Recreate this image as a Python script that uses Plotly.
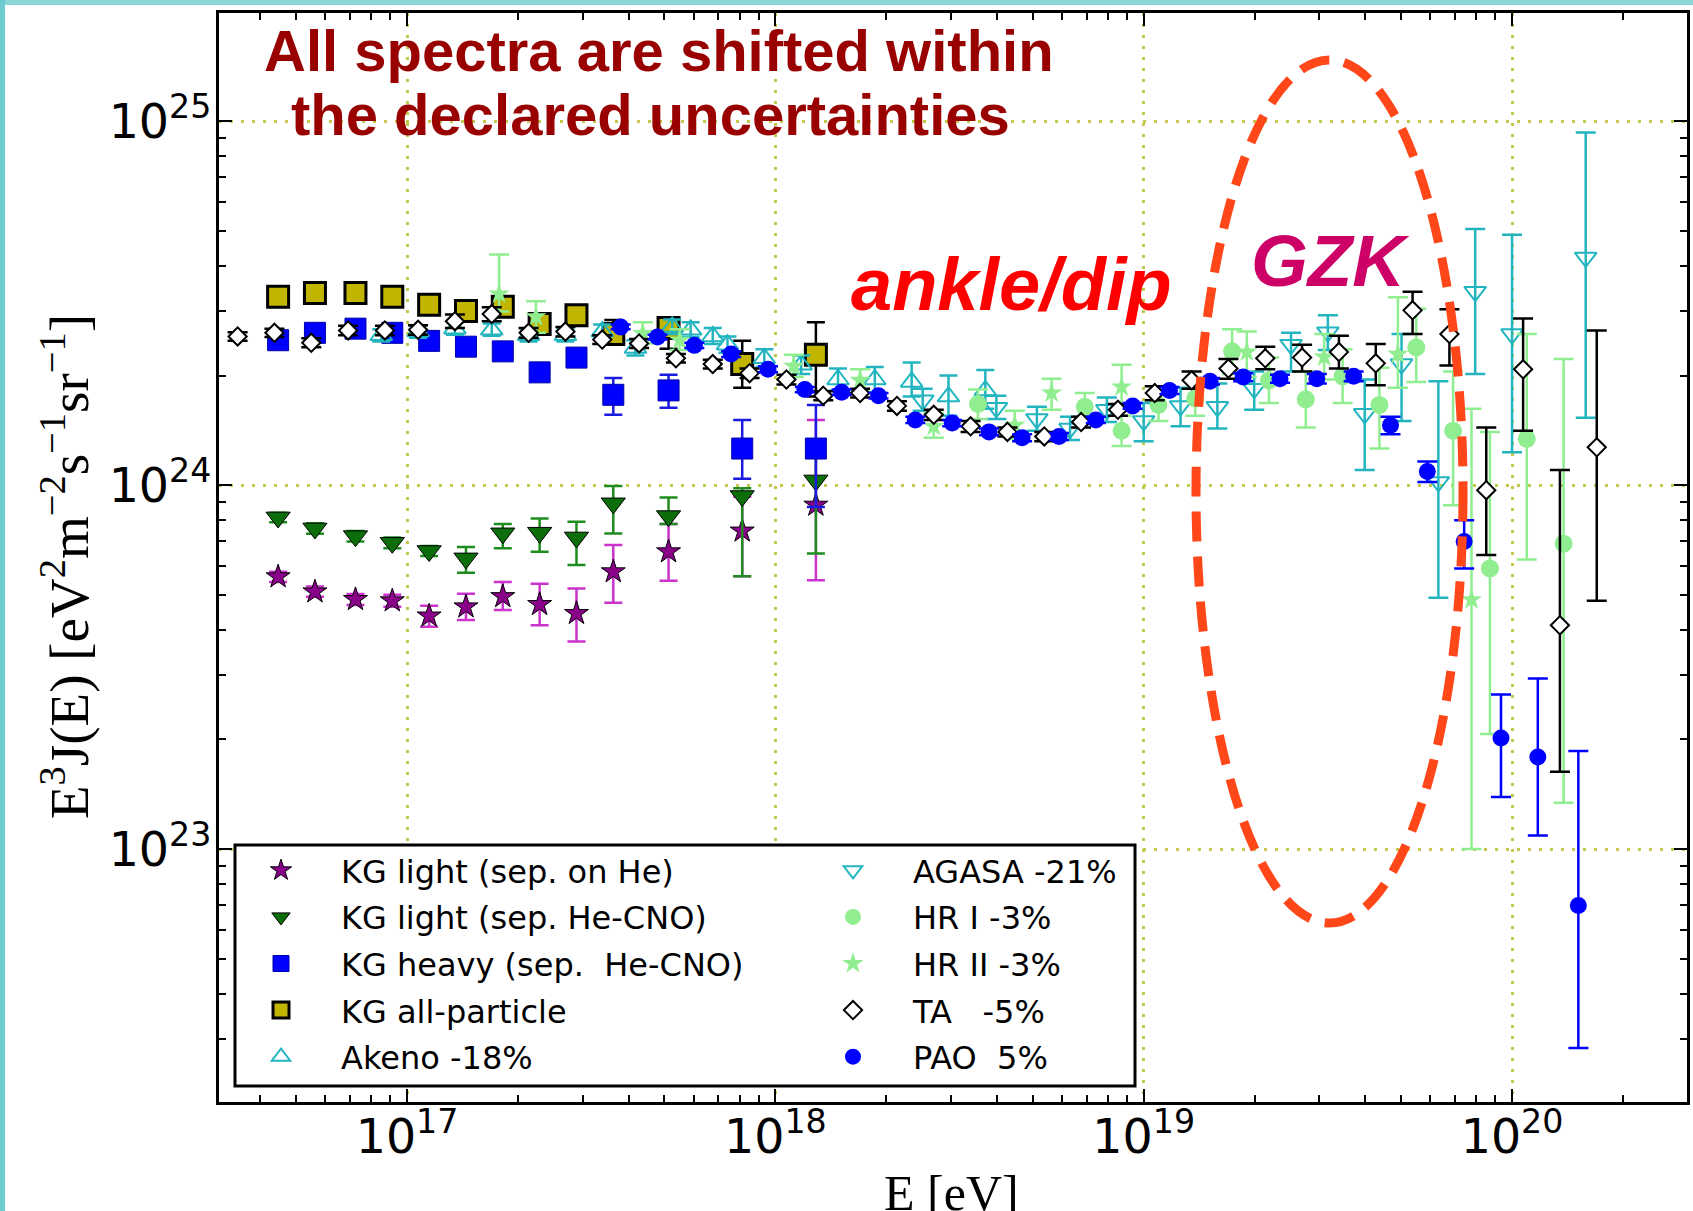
import plotly.graph_objects as go

# ---------------------------------------------------------------------------
# Cosmic-ray all-particle spectrum, E^3 J(E), several experiments
# energies stored as log10(E / eV), fluxes in eV^2 m^-2 s^-1 sr^-1
# ---------------------------------------------------------------------------

kg_lgE = [16.65, 16.75, 16.86, 16.96, 17.06, 17.16, 17.26, 17.36, 17.46, 17.56, 17.71, 17.91, 18.11]

kg_light_he = [5.60e23, 5.09e23, 4.85e23, 4.81e23, 4.37e23, 4.63e23, 4.94e23, 4.70e23, 4.44e23, 5.78e23, 6.56e23, 7.48e23, 8.81e23]
kg_light_he_lo = [5.42e23, 4.93e23, 4.68e23, 4.63e23, 4.08e23, 4.26e23, 4.54e23, 4.12e23, 3.72e23, 4.75e23, 5.46e23, 5.62e23, 5.48e23]
kg_light_he_hi = [5.78e23, 5.26e23, 5.02e23, 5.00e23, 4.66e23, 5.03e23, 5.42e23, 5.36e23, 5.20e23, 6.84e23, 7.82e23, 9.29e23, 1.51e24]

kg_light_cno = [8.15e23, 7.60e23, 7.24e23, 6.94e23, 6.59e23, 6.29e23, 7.37e23, 7.40e23, 7.18e23, 8.91e23, 8.22e23, 9.33e23, 1.03e24]
kg_light_cno_lo = [7.90e23, 7.35e23, 7.00e23, 6.70e23, 6.38e23, 5.74e23, 6.70e23, 6.56e23, 6.03e23, 7.36e23, 7.82e23, 5.62e23, 6.49e23]
kg_light_cno_hi = [8.40e23, 7.85e23, 7.48e23, 7.18e23, 6.80e23, 6.76e23, 7.82e23, 8.10e23, 7.93e23, 9.94e23, 9.25e23, 9.80e23, 1.22e24]

kg_heavy = [2.50e24, 2.62e24, 2.69e24, 2.62e24, 2.49e24, 2.40e24, 2.33e24, 2.04e24, 2.24e24, 1.77e24, 1.82e24, 1.26e24, 1.26e24]
kg_heavy_lo = [2.42e24, 2.54e24, 2.61e24, 2.54e24, 2.41e24, 2.32e24, 2.25e24, 1.96e24, 2.14e24, 1.56e24, 1.63e24, 1.04e24, 8.70e23]
kg_heavy_hi = [2.58e24, 2.70e24, 2.77e24, 2.70e24, 2.57e24, 2.48e24, 2.41e24, 2.12e24, 2.34e24, 1.97e24, 2.01e24, 1.51e24, 1.66e24]

kg_all = [3.29e24, 3.37e24, 3.37e24, 3.29e24, 3.13e24, 3.01e24, 3.09e24, 2.77e24, 2.93e24, 2.60e24, 2.70e24, 2.15e24, 2.28e24]
kg_all_lo = [3.19e24, 3.27e24, 3.27e24, 3.19e24, 3.03e24, 2.91e24, 2.97e24, 2.67e24, 2.81e24, 2.48e24, 2.37e24, 1.85e24, 1.75e24]
kg_all_hi = [3.39e24, 3.47e24, 3.47e24, 3.39e24, 3.23e24, 3.11e24, 3.21e24, 2.87e24, 3.05e24, 2.84e24, 2.81e24, 2.49e24, 2.80e24]

akeno_lgE = [16.93, 17.03, 17.13, 17.23, 17.33, 17.43, 17.53, 17.62, 17.72, 17.77, 17.83, 17.87, 17.97, 18.07, 18.17, 18.27, 18.37, 18.47, 18.57]
akeno = [2.58e24, 2.64e24, 2.69e24, 2.67e24, 2.58e24, 2.58e24, 2.64e24, 2.38e24, 2.72e24, 2.67e24, 2.56e24, 2.43e24, 2.23e24, 2.14e24, 1.95e24, 1.95e24, 1.92e24, 1.75e24, 1.82e24]
akeno_lo = [2.48e24, 2.54e24, 2.59e24, 2.57e24, 2.48e24, 2.48e24, 2.53e24, 2.27e24, 2.60e24, 2.55e24, 2.44e24, 2.31e24, 2.11e24, 2.02e24, 1.82e24, 1.80e24, 1.75e24, 1.55e24, 1.62e24]
akeno_hi = [2.68e24, 2.74e24, 2.80e24, 2.78e24, 2.68e24, 2.69e24, 2.76e24, 2.50e24, 2.85e24, 2.80e24, 2.70e24, 2.56e24, 2.36e24, 2.27e24, 2.09e24, 2.11e24, 2.17e24, 2.00e24, 2.07e24]

agasa_lgE = [18.40, 18.60, 18.71, 18.80, 18.90, 19.00, 19.10, 19.20, 19.30, 19.40, 19.50, 19.60, 19.70, 19.80, 19.90, 20.00, 20.20]
agasa = [1.71e24, 1.63e24, 1.52e24, 1.43e24, 1.61e24, 1.50e24, 1.65e24, 1.64e24, 1.84e24, 2.43e24, 2.63e24, 1.57e24, 2.15e24, 1.02e24, 3.40e24, 2.60e24, 4.22e24]
agasa_lo = [1.60e24, 1.52e24, 1.41e24, 1.33e24, 1.49e24, 1.32e24, 1.45e24, 1.43e24, 1.61e24, 2.05e24, 2.35e24, 1.10e24, 1.50e24, 4.90e23, 2.02e24, 1.23e24, 1.53e24]
agasa_hi = [1.84e24, 1.76e24, 1.64e24, 1.54e24, 1.74e24, 1.68e24, 1.85e24, 1.90e24, 2.05e24, 2.62e24, 2.93e24, 1.95e24, 2.60e24, 1.93e24, 5.05e24, 4.87e24, 9.30e24]

hr1_lgE = [18.55, 18.84, 18.94, 19.04, 19.14, 19.24, 19.34, 19.44, 19.54, 19.64, 19.74, 19.84, 19.94, 20.04, 20.14]
hr1 = [1.67e24, 1.64e24, 1.41e24, 1.66e24, 1.73e24, 2.33e24, 1.94e24, 1.72e24, 1.99e24, 1.66e24, 2.39e24, 1.41e24, 5.90e23, 1.34e24, 6.90e23]
hr1_lo = [1.52e24, 1.50e24, 1.28e24, 1.50e24, 1.55e24, 2.02e24, 1.68e24, 1.44e24, 1.68e24, 1.26e24, 1.92e24, 8.80e23, 2.07e23, 6.24e23, 1.34e23]
hr1_hi = [1.83e24, 1.79e24, 1.55e24, 1.83e24, 1.93e24, 2.68e24, 2.24e24, 2.05e24, 2.36e24, 2.10e24, 3.05e24, 2.05e24, 1.40e24, 2.60e24, 2.22e24]

hr2_lgE = [17.25, 17.35, 17.64, 17.74, 18.05, 18.23, 18.43, 18.65, 18.75, 18.94, 19.28, 19.49, 19.69, 19.89]
hr2 = [3.35e24, 2.90e24, 2.61e24, 2.50e24, 2.12e24, 1.94e24, 1.45e24, 1.46e24, 1.79e24, 1.86e24, 2.32e24, 2.25e24, 2.29e24, 4.84e23]
hr2_lo = [3.00e24, 2.62e24, 2.45e24, 2.35e24, 1.98e24, 1.82e24, 1.35e24, 1.34e24, 1.61e24, 1.62e24, 1.98e24, 1.95e24, 1.85e24, 1.00e23]
hr2_hi = [4.30e24, 3.20e24, 2.80e24, 2.68e24, 2.28e24, 2.08e24, 1.58e24, 1.60e24, 1.96e24, 2.14e24, 2.64e24, 2.60e24, 3.28e24, 1.62e24]

ta_lgE = [16.54, 16.64, 16.74, 16.84, 16.94, 17.03, 17.13, 17.23, 17.33, 17.43, 17.53, 17.63, 17.73, 17.83, 17.93, 18.03, 18.13, 18.23, 18.33,
          18.43, 18.53, 18.63, 18.73, 18.83, 18.93, 19.03, 19.13, 19.23, 19.33, 19.43, 19.53, 19.63, 19.73, 19.83, 19.93, 20.03, 20.13, 20.23]
ta = [2.56e24, 2.62e24, 2.46e24, 2.66e24, 2.66e24, 2.67e24, 2.82e24, 2.95e24, 2.62e24, 2.64e24, 2.51e24, 2.45e24, 2.23e24, 2.15e24, 2.03e24, 1.95e24, 1.76e24, 1.79e24, 1.65e24,
      1.56e24, 1.45e24, 1.40e24, 1.36e24, 1.49e24, 1.61e24, 1.79e24, 1.94e24, 2.09e24, 2.23e24, 2.24e24, 2.32e24, 2.16e24, 3.02e24, 2.60e24, 9.68e23, 2.08e24, 4.12e23, 1.27e24]
ta_lo = [2.49e24, 2.55e24, 2.39e24, 2.58e24, 2.58e24, 2.59e24, 2.70e24, 2.82e24, 2.54e24, 2.56e24, 2.44e24, 2.38e24, 2.17e24, 2.09e24, 1.97e24, 1.89e24, 1.71e24, 1.74e24, 1.60e24,
         1.51e24, 1.40e24, 1.36e24, 1.32e24, 1.44e24, 1.55e24, 1.71e24, 1.84e24, 1.96e24, 2.08e24, 2.05e24, 2.09e24, 1.88e24, 2.60e24, 2.13e24, 6.43e23, 1.41e24, 1.63e23, 4.81e23]
ta_hi = [2.63e24, 2.69e24, 2.53e24, 2.74e24, 2.74e24, 2.75e24, 2.94e24, 3.08e24, 2.70e24, 2.72e24, 2.58e24, 2.52e24, 2.29e24, 2.21e24, 2.09e24, 2.01e24, 1.81e24, 1.84e24, 1.70e24,
         1.61e24, 1.50e24, 1.44e24, 1.40e24, 1.54e24, 1.67e24, 1.87e24, 2.05e24, 2.22e24, 2.40e24, 2.43e24, 2.57e24, 2.44e24, 3.40e24, 3.04e24, 1.44e24, 2.87e24, 1.10e24, 2.66e24]

pao_lgE = [17.58, 17.68, 17.78, 17.88, 17.98, 18.08, 18.18, 18.28, 18.38, 18.48, 18.58, 18.67, 18.77, 18.87, 18.97, 19.07, 19.18, 19.27,
           19.37, 19.47, 19.57, 19.67, 19.77, 19.87, 19.97, 20.07, 20.18]
pao = [2.72e24, 2.55e24, 2.42e24, 2.29e24, 2.08e24, 1.83e24, 1.80e24, 1.76e24, 1.51e24, 1.48e24, 1.40e24, 1.35e24, 1.36e24, 1.51e24, 1.65e24, 1.82e24, 1.93e24, 1.98e24,
       1.96e24, 1.96e24, 1.99e24, 1.46e24, 1.09e24, 7.00e23, 2.02e23, 1.79e23, 7.00e22]
pao_lo = [2.68e24, 2.51e24, 2.38e24, 2.25e24, 2.04e24, 1.80e24, 1.77e24, 1.73e24, 1.48e24, 1.45e24, 1.37e24, 1.32e24, 1.33e24, 1.48e24, 1.62e24, 1.78e24, 1.89e24, 1.93e24,
          1.91e24, 1.90e24, 1.93e24, 1.38e24, 1.02e24, 5.90e23, 1.39e23, 1.09e23, 2.84e22]
pao_hi = [2.76e24, 2.59e24, 2.46e24, 2.33e24, 2.12e24, 1.86e24, 1.83e24, 1.79e24, 1.54e24, 1.51e24, 1.43e24, 1.38e24, 1.39e24, 1.54e24, 1.68e24, 1.86e24, 1.97e24, 2.03e24,
          2.01e24, 2.02e24, 2.05e24, 1.54e24, 1.16e24, 8.00e23, 2.66e23, 2.94e23, 1.86e23]

# ---------------------------------------------------------------------------
# page geometry (pixels) and helpers to place decorations in paper coordinates
# ---------------------------------------------------------------------------
W, H = 1693, 1211
ML, MR, MT, MB = 219, 6, 13, 109
PW, PH = W - ML - MR, H - MT - MB


def px_x(px):
    return (px - ML) / PW


def px_y(py):
    return (H - MB - py) / PH


CYAN = "#22b5c0"
LGREEN = "#90ee90"


def add_series(fig, name, lgE, y, lo, hi, marker, err_color, legend, cap=9):
    x = [10 ** v for v in lgE]
    plus = [h - v for v, h in zip(y, hi)]
    minus = [v - l for v, l in zip(y, lo)]
    fig.add_trace(go.Scatter(
        x=x, y=y, mode="markers", name=name,
        legend=legend, legendgroup=name,
        marker=marker,
        error_y=dict(type="data", symmetric=False, array=plus, arrayminus=minus,
                     color=err_color, thickness=2.5, width=cap),
    ))


fig = go.Figure()

add_series(fig, "KG light (sep. on He)", kg_lgE, kg_light_he, kg_light_he_lo, kg_light_he_hi,
           dict(symbol="star", size=18, color="#8b008b", line=dict(color="black", width=1)), "#cc33cc", "legend")
add_series(fig, "KG light (sep. He-CNO)", kg_lgE, kg_light_cno, kg_light_cno_lo, kg_light_cno_hi,
           dict(symbol="triangle-down", size=21, color="#0b6e0b", line=dict(color="black", width=1)), "#1e8c1e", "legend")
add_series(fig, "KG heavy (sep.  He-CNO)", kg_lgE, kg_heavy, kg_heavy_lo, kg_heavy_hi,
           dict(symbol="square", size=21, color="#0000ff", line=dict(color="#0000aa", width=1)), "#1a1ae0", "legend")
add_series(fig, "KG all-particle", kg_lgE, kg_all, kg_all_lo, kg_all_hi,
           dict(symbol="square", size=21, color="#c2b500", line=dict(color="black", width=3)), "black", "legend")
add_series(fig, "Akeno -18%", akeno_lgE, akeno, akeno_lo, akeno_hi,
           dict(symbol="triangle-up-open", size=19, color=CYAN, line=dict(color=CYAN, width=2)), CYAN, "legend")
add_series(fig, "AGASA -21%", agasa_lgE, agasa, agasa_lo, agasa_hi,
           dict(symbol="triangle-down-open", size=19, color=CYAN, line=dict(color=CYAN, width=2)), CYAN, "legend2", cap=10)
add_series(fig, "HR I -3%", hr1_lgE, hr1, hr1_lo, hr1_hi,
           dict(symbol="circle", size=18, color=LGREEN, line=dict(width=0)), LGREEN, "legend2", cap=10)
add_series(fig, "HR II -3%", hr2_lgE, hr2, hr2_lo, hr2_hi,
           dict(symbol="star", size=16, color=LGREEN, line=dict(width=0)), LGREEN, "legend2", cap=10)
add_series(fig, "TA   -5%", ta_lgE, ta, ta_lo, ta_hi,
           dict(symbol="diamond", size=14, color="white", line=dict(color="black", width=2)), "black", "legend2", cap=10)
add_series(fig, "PAO  5%", pao_lgE, pao, pao_lo, pao_hi,
           dict(symbol="circle", size=17, color="#0000ff", line=dict(width=0)), "#0000ff", "legend2", cap=10)

GRID = "#c4c84a"
axis_common = dict(
    type="log", showline=True, linecolor="black", linewidth=3, mirror="ticks",
    ticks="inside", ticklen=13, tickwidth=2, tickcolor="black",
    tickmode="linear", tick0=0, dtick=1, exponentformat="power", showexponent="all",
    tickfont=dict(family="DejaVu Sans", size=38, color="black"),
    showgrid=True, gridcolor=GRID, gridwidth=3, griddash="3px,8px",
    minor=dict(ticks="inside", ticklen=7, tickwidth=2, tickcolor="black", dtick="D1", showgrid=False),
    zeroline=False, automargin=False,
)

fig.update_xaxes(range=[16.4895, 20.475], ticklabelstandoff=-7, **axis_common)
fig.update_yaxes(range=[22.305, 25.297], ticklabelstandoff=-3, **axis_common)

legend_common = dict(
    bgcolor="rgba(0,0,0,0)", borderwidth=0, xanchor="left", yanchor="top",
    font=dict(family="DejaVu Sans", size=32, color="black"),
    itemwidth=110, tracegroupgap=2, orientation="v",
)

fig.update_layout(
    width=W, height=H,
    margin=dict(l=ML, r=MR, t=MT, b=MB, pad=0),
    paper_bgcolor="white", plot_bgcolor="white",
    showlegend=True,
    legend=dict(x=px_x(221), y=px_y(843), **legend_common),
    legend2=dict(x=px_x(793), y=px_y(843), **legend_common),
)

shapes = [
    # teal frame strips along the top and left edge of the page
    dict(type="rect", xref="paper", yref="paper", x0=px_x(0), x1=px_x(W), y0=px_y(5), y1=px_y(0),
         fillcolor="#8ed5d8", line=dict(width=0), layer="above"),
    dict(type="rect", xref="paper", yref="paper", x0=px_x(0), x1=px_x(5), y0=px_y(H), y1=px_y(0),
         fillcolor="#6fcbd0", line=dict(width=0), layer="above"),
    # legend frame
    dict(type="rect", xref="paper", yref="paper", x0=px_x(235), x1=px_x(1135), y0=px_y(1086), y1=px_y(845),
         fillcolor="white", line=dict(color="black", width=3), layer="above"),
    # dashed ellipse marking the GZK region
    dict(type="circle", xref="paper", yref="paper", x0=px_x(1196), x1=px_x(1463), y0=px_y(923), y1=px_y(60),
         line=dict(color="#ff4719", width=9, dash="30px,15px"), fillcolor="rgba(0,0,0,0)", layer="above"),
]
fig.update_layout(shapes=shapes)

annotations = [
    dict(text="<b>All spectra are shifted within</b>", x=px_x(659), y=px_y(50),
         font=dict(family="Liberation Sans", size=58, color="#990000")),
    dict(text="<b>the declared uncertainties</b>", x=px_x(650), y=px_y(115),
         font=dict(family="Liberation Sans", size=58, color="#990000")),
    dict(text="<b><i>ankle/dip</i></b>", x=px_x(1011), y=px_y(284),
         font=dict(family="Liberation Sans", size=74, color="#ff0000")),
    dict(text="<b><i>GZK</i></b>", x=px_x(1330), y=px_y(260),
         font=dict(family="Liberation Sans", size=73, color="#cc0066")),
    dict(text="E<sup>3</sup>J(E) [eV<sup>2</sup>m<sup>\u22122</sup>s<sup>\u22121</sup>sr<sup>\u22121</sup>]",
         x=px_x(65), y=px_y(567), textangle=-90,
         font=dict(family="Liberation Serif", size=55, color="black")),
    dict(text="E [eV]", x=px_x(951), y=px_y(1193),
         font=dict(family="Liberation Serif", size=50, color="black")),
]
for a in annotations:
    a.update(xref="paper", yref="paper", xanchor="center", yanchor="middle", showarrow=False)
fig.update_layout(annotations=annotations)

fig.write_html("out.html")
